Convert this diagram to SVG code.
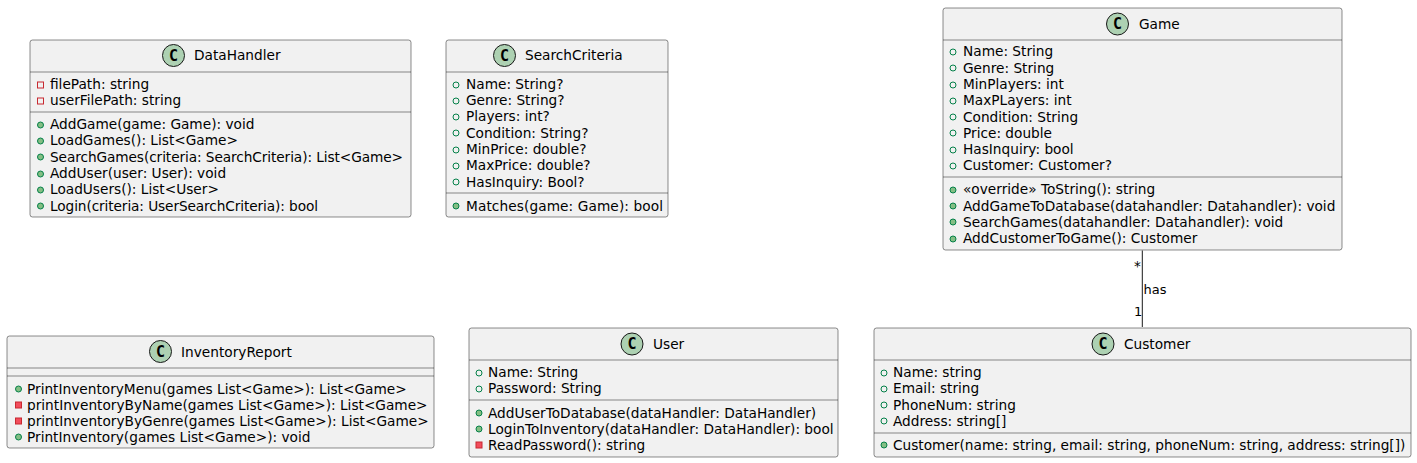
<svg xmlns="http://www.w3.org/2000/svg" width="1417" height="463" viewBox="0 0 1417 463">
<style>
text{font-family:"DejaVu Sans",sans-serif;font-size:13.7px;fill:#000}
.box{fill:#F1F1F1;stroke:#181818;stroke-width:.5}
.sep{stroke:#181818;stroke-width:.5;fill:none}
.cc{fill:#ADD1B2;stroke:#181818;stroke-width:1}
.cg{font-family:"DejaVu Sans Mono",monospace;font-weight:bold;font-size:15px;text-anchor:middle}
.pu{fill:none;stroke:#038048;stroke-width:1}
.pum{fill:#84BE84;stroke:#038048;stroke-width:1}
.pr{fill:none;stroke:#C82930;stroke-width:1}
.prm{fill:#F24D5C;stroke:#C82930;stroke-width:1}
.conn{stroke:#181818;stroke-width:1;fill:none}
.lab{font-size:13px}
</style>
<defs>
<circle id="fpu" class="pu" r="3"/>
<circle id="mpu" class="pum" r="3"/>
<rect id="fpr" class="pr" x="-3" y="-3" width="6" height="6"/>
<rect id="mpr" class="prm" x="-3" y="-3" width="6" height="6"/>
</defs>
<g id="connectors">
<path class="conn" d="M1142.300 250.500V327"/>
<text x="1134" y="271">*</text>
<text class="lab" x="1143.500" y="294">has</text>
<text class="lab" x="1134" y="316">1</text>
</g>
<g id="DataHandler">
<rect class="box" x="30" y="40" width="381" height="177" rx="2.500"/>
<path class="sep" d="M30 72H411M30 112H411"/>
<circle class="cc" cx="173.500" cy="55.500" r="11"/><text class="cg" x="173.500" y="60.500">C</text>
<text x="194" y="60">DataHandler</text>
<use href="#fpr" x="40.500" y="85"/><text x="50" y="89">filePath: string</text>
<use href="#fpr" x="40.500" y="101"/><text x="50" y="105">userFilePath: string</text>
<use href="#mpu" x="40.500" y="125"/><text x="50" y="129">AddGame(game: Game): void</text>
<use href="#mpu" x="40.500" y="141"/><text x="50" y="145">LoadGames(): List&lt;Game&gt;</text>
<use href="#mpu" x="40.500" y="157"/><text x="50" y="162" textLength="353">SearchGames(criteria: SearchCriteria): List&lt;Game&gt;</text>
<use href="#mpu" x="40.500" y="174"/><text x="50" y="178">AddUser(user: User): void</text>
<use href="#mpu" x="40.500" y="190"/><text x="50" y="194">LoadUsers(): List&lt;User&gt;</text>
<use href="#mpu" x="40.500" y="206"/><text x="50" y="211" textLength="268">Login(criteria: UserSearchCriteria): bool</text>
</g>
<g id="SearchCriteria">
<rect class="box" x="446" y="40" width="222" height="177" rx="2.500"/>
<path class="sep" d="M446 72H668M446 193H668"/>
<circle class="cc" cx="504.500" cy="55.500" r="11"/><text class="cg" x="504.500" y="60.500">C</text>
<text x="525" y="60">SearchCriteria</text>
<use href="#fpu" x="456" y="85"/><text x="466" y="89">Name: String?</text>
<use href="#fpu" x="456" y="101"/><text x="466" y="105">Genre: String?</text>
<use href="#fpu" x="456" y="117"/><text x="466" y="121">Players: int?</text>
<use href="#fpu" x="456" y="133"/><text x="466" y="138">Condition: String?</text>
<use href="#fpu" x="456" y="150"/><text x="466" y="154">MinPrice: double?</text>
<use href="#fpu" x="456" y="166"/><text x="466" y="170">MaxPrice: double?</text>
<use href="#fpu" x="456" y="182"/><text x="466" y="187">HasInquiry: Bool?</text>
<use href="#mpu" x="456" y="206"/><text x="466" y="211" textLength="197">Matches(game: Game): bool</text>
</g>
<g id="Game">
<rect class="box" x="943" y="8" width="399" height="242" rx="2.500"/>
<path class="sep" d="M943 40H1342M943 177H1342"/>
<circle class="cc" cx="1117.500" cy="24" r="11"/><text class="cg" x="1117.500" y="29">C</text>
<text x="1139" y="29">Game</text>
<use href="#fpu" x="953" y="52"/><text x="963" y="56">Name: String</text>
<use href="#fpu" x="953" y="68"/><text x="963" y="73">Genre: String</text>
<use href="#fpu" x="953" y="85"/><text x="963" y="89">MinPlayers: int</text>
<use href="#fpu" x="953" y="101"/><text x="963" y="105">MaxPLayers: int</text>
<use href="#fpu" x="953" y="117"/><text x="963" y="122">Condition: String</text>
<use href="#fpu" x="953" y="133"/><text x="963" y="138">Price: double</text>
<use href="#fpu" x="953" y="150"/><text x="963" y="154">HasInquiry: bool</text>
<use href="#fpu" x="953" y="166"/><text x="963" y="170">Customer: Customer?</text>
<use href="#mpu" x="953" y="190"/><text x="963" y="194">«override» ToString(): string</text>
<use href="#mpu" x="953" y="206"/><text x="963" y="211">AddGameToDatabase(datahandler: Datahandler): void</text>
<use href="#mpu" x="953" y="222"/><text x="963" y="227">SearchGames(datahandler: Datahandler): void</text>
<use href="#mpu" x="953" y="239"/><text x="963" y="243">AddCustomerToGame(): Customer</text>
</g>
<g id="InventoryReport">
<rect class="box" x="7" y="336" width="427" height="112" rx="2.500"/>
<path class="sep" d="M7 368H434M7 376H434"/>
<circle class="cc" cx="160.500" cy="351.500" r="11"/><text class="cg" x="160.500" y="356.500">C</text>
<text x="181" y="357">InventoryReport</text>
<use href="#mpu" x="18.500" y="389"/><text x="27" y="394">PrintInventoryMenu(games List&lt;Game&gt;): List&lt;Game&gt;</text>
<use href="#mpr" x="18.500" y="405"/><text x="27" y="410">printInventoryByName(games List&lt;Game&gt;): List&lt;Game&gt;</text>
<use href="#mpr" x="18.500" y="421"/><text x="27" y="426">printInventoryByGenre(games List&lt;Game&gt;): List&lt;Game&gt;</text>
<use href="#mpu" x="18.500" y="437"/><text x="27" y="442">PrintInventory(games List&lt;Game&gt;): void</text>
</g>
<g id="User">
<rect class="box" x="469" y="328" width="369" height="129" rx="2.500"/>
<path class="sep" d="M469 360H838M469 400H838"/>
<circle class="cc" cx="632" cy="344" r="11"/><text class="cg" x="632" y="349">C</text>
<text x="653" y="349">User</text>
<use href="#fpu" x="479" y="373"/><text x="488" y="377">Name: String</text>
<use href="#fpu" x="479" y="389"/><text x="488" y="393">Password: String</text>
<use href="#mpu" x="479" y="413"/><text x="488" y="418">AddUserToDatabase(dataHandler: DataHandler)</text>
<use href="#mpu" x="479" y="429"/><text x="488" y="434">LoginToInventory(dataHandler: DataHandler): bool</text>
<use href="#mpr" x="479" y="445"/><text x="488" y="450">ReadPassword(): string</text>
</g>
<g id="Customer">
<rect class="box" x="874" y="328" width="537" height="129" rx="2.500"/>
<path class="sep" d="M874 360H1411M874 433H1411"/>
<circle class="cc" cx="1103" cy="344" r="11"/><text class="cg" x="1103" y="349">C</text>
<text x="1124" y="349">Customer</text>
<use href="#fpu" x="884" y="373"/><text x="893" y="377">Name: string</text>
<use href="#fpu" x="884" y="389"/><text x="893" y="393">Email: string</text>
<use href="#fpu" x="884" y="405"/><text x="893" y="410">PhoneNum: string</text>
<use href="#fpu" x="884" y="421"/><text x="893" y="426">Address: string[]</text>
<use href="#mpu" x="884" y="445"/><text x="893" y="450">Customer(name: string, email: string, phoneNum: string, address: string[])</text>
</g>
</svg>
